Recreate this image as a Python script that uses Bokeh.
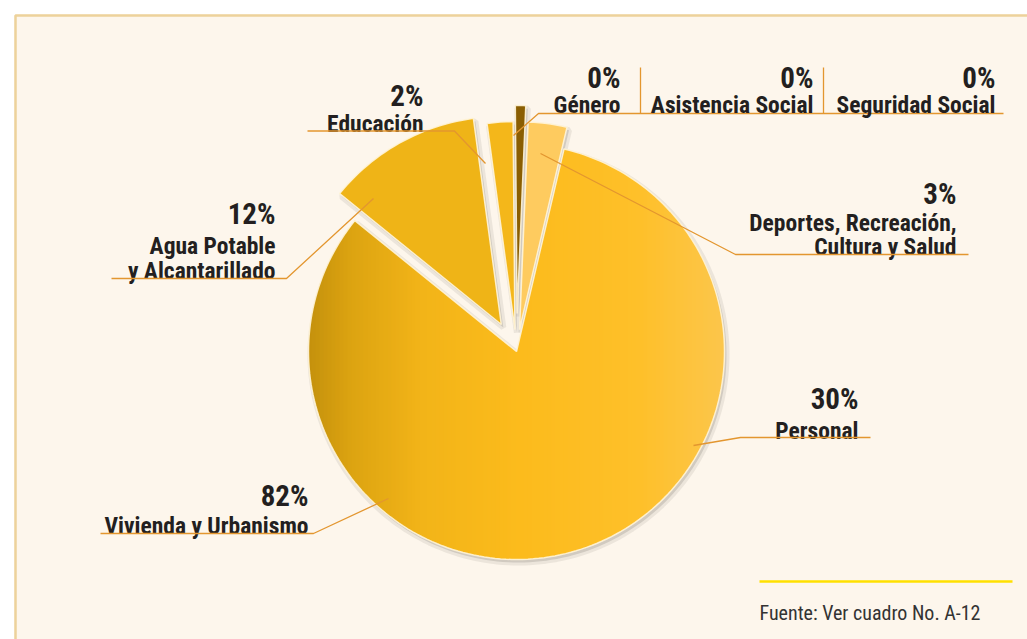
from bokeh.plotting import figure
from bokeh.models import Range1d
from bokeh.core.properties import value
from bokeh.embed import file_html
from bokeh.resources import INLINE
import math

# ---------------- data ----------------
slice_names = ["Género", "Deportes, Recreación, Cultura y Salud", "Vivienda y Urbanismo",
               "Agua Potable y Alcantarillado", "Educación"]
slice_values = [0.8, 3, 82, 12, 2]          # drawn slice sizes
slice_colors = ["#8A5E02", "#FECB5F", None, "#EFB417", "#F4B71A"]
slice_explode = [38, 22, 0, 31, 22]

label_pcts = ["2%", "12%", "82%", "30%", "3%", "0%", "0%", "0%"]
label_names = [["Educación"], ["Agua Potable", "y Alcantarillado"], ["Vivienda y Urbanismo"],
               ["Personal"], ["Deportes, Recreación,", "Cultura y Salud"],
               ["Género"], ["Asistencia Social"], ["Seguridad Social"]]
source_note = "Fuente: Ver cuadro No. A-12"

# gradient stops for the large slice (image x, colour)
grad_stops = [(308, "#C4910C"), (350, "#DCA311"), (420, "#F2B418"), (520, "#FCBB1C"),
              (640, "#FEC02A"), (725, "#FCC64C")]

W, H = 1027, 639
def X(ix): return ix
def Y(iy): return H - iy

FONT = "'Liberation Sans Narrow', 'Roboto Condensed', 'Arial Narrow', sans-serif"
TXT = "#231F20"
LEAD = "#E3962F"

p = figure(width=W, height=H, x_range=Range1d(0, W), y_range=Range1d(0, H),
           output_backend="svg", toolbar_location=None, min_border=0,
           x_axis_location=None, y_axis_location=None)
p.grid.visible = False
p.outline_line_color = None
p.background_fill_color = "white"
p.border_fill_color = "white"

# card background
p.quad(left=[X(14)], right=[W + 10], bottom=[-10], top=[Y(14)],
       fill_color="#FDF6EC", line_color=None)
p.line([X(15), X(15), W + 10], [-10, Y(15), Y(15)], line_color="#EDD29B", line_width=2.5)

# ---------------- pie ----------------
cx, cy, R = X(516), Y(351), 208.0
theta0 = -0.5
total = sum(slice_values)

def wedge_poly(ox, oy, r, t1, t2, n=None):
    if n is None:
        n = max(4, int(abs(t2 - t1) / 1.5))
    xs, ys = [ox], [oy]
    for k in range(n + 1):
        t = math.radians(t1 + (t2 - t1) * k / n)
        xs.append(ox + r * math.sin(t))
        ys.append(oy + r * math.cos(t))
    return xs, ys

def clip_band(pts, x0, x1):
    def clip_edge(pts, keep, inter):
        out = []
        for i in range(len(pts)):
            cur, prev = pts[i], pts[i - 1]
            if keep(cur):
                if not keep(prev):
                    out.append(inter(prev, cur))
                out.append(cur)
            elif keep(prev):
                out.append(inter(prev, cur))
        return out
    def ix(xc):
        return lambda a, b: (xc, a[1] + (b[1] - a[1]) * (xc - a[0]) / (b[0] - a[0]))
    pts = clip_edge(pts, lambda q: q[0] >= x0, ix(x0))
    if pts:
        pts = clip_edge(pts, lambda q: q[0] <= x1, ix(x1))
    return pts

def hex2rgb(h):
    return tuple(int(h[i:i + 2], 16) for i in (1, 3, 5))

def grad_color(ixpos):
    if ixpos <= grad_stops[0][0]:
        return grad_stops[0][1]
    for (a, ca), (b, cb) in zip(grad_stops, grad_stops[1:]):
        if a <= ixpos <= b:
            f = (ixpos - a) / (b - a)
            r1, r2 = hex2rgb(ca), hex2rgb(cb)
            return "#%02X%02X%02X" % tuple(int(round(r1[i] + (r2[i] - r1[i]) * f)) for i in range(3))
    return grad_stops[-1][1]

slices = []
t = theta0
for name, v, col, ex in zip(slice_names, slice_values, slice_colors, slice_explode):
    span = v / total * 360.0
    mid = math.radians(t + span / 2)
    ox, oy = cx + ex * math.sin(mid), cy + ex * math.cos(mid)
    slices.append((name, t, t + span, col, ox, oy))
    t += span

# shadows first
for name, t1, t2, col, ox, oy in slices:
    xs, ys = wedge_poly(ox, oy, R, t1, t2)
    p.patch([x + 2 for x in xs], [y - 3 for y in ys], fill_color="#9E998F", fill_alpha=0.35,
            line_color="#9E998F", line_alpha=0.18, line_width=6)

# slices
for name, t1, t2, col, ox, oy in slices:
    xs, ys = wedge_poly(ox, oy, R, t1, t2)
    if col is None:
        pts = list(zip(xs, ys))
        bxs, bys, bcs = [], [], []
        step = 4
        xstart = int(min(xs)) - 1
        xend = int(max(xs)) + 2
        xx = xstart
        while xx < xend:
            part = clip_band(pts, xx, xx + step + 0.8)
            if len(part) >= 3:
                bxs.append([q[0] for q in part])
                bys.append([q[1] for q in part])
                bcs.append(grad_color(xx + step / 2))
            xx += step
        p.patches(bxs, bys, fill_color=bcs, line_color=None)
        p.patch(xs, ys, fill_color=None, line_color="#FFF4D8", line_width=1.5, line_alpha=0.9)
    else:
        p.patch(xs, ys, fill_color=col, line_color="#FFF4D8", line_width=1.5, line_alpha=0.9)

# ---------------- labels ----------------
label_layout = [
    # right x, pct baseline, name baselines, leader polyline (image coords)
    (423, 95, [123], [(307, 130.5), (454, 130.5), (485, 163)]),
    (275, 213, [245, 270], [(111, 278), (286, 278), (373, 198)]),
    (308, 495, [525], [(100, 533), (313, 533), (388, 498)]),
    (858, 398, [430], [(693, 445), (740, 437), (870, 437)]),
    (956, 193, [222, 246], [(540, 153), (735, 254), (968, 254)]),
    (620, 77, [104], [(513, 135), (538, 113), (1003, 113)]),
    (813, 77, [104], None),
    (995, 77, [104], None),
]

for pct, names, (rx, pb, nbs, lead) in zip(label_pcts, label_names, label_layout):
    p.text([X(rx)], [Y(pb)], text=[pct], text_font=value(FONT), text_font_style="bold",
           text_font_size="29px", text_color=TXT, text_align="right", text_baseline="alphabetic")
    for nm, b in zip(names, nbs):
        p.text([X(rx)], [Y(b)], text=[nm], text_font=value(FONT), text_font_style="bold",
               text_font_size="23.5px", text_color=TXT, text_align="right", text_baseline="alphabetic")
    if lead:
        p.line([X(a) for a, b in lead], [Y(b) for a, b in lead], line_color=LEAD, line_width=1.3)

# separators among the zero-value labels
for sx in (640, 823):
    p.line([X(sx), X(sx)], [Y(67), Y(113)], line_color=LEAD, line_width=1.3)

# source note
p.line([X(759), X(1012)], [Y(581), Y(581)], line_color="#FFE000", line_width=2.5)
p.text([X(759)], [Y(612)], text=[source_note], text_font=value(FONT), text_font_size="20px",
       text_color="#333333", text_align="left", text_baseline="alphabetic")

open("out.html", "w").write(file_html(p, INLINE))
